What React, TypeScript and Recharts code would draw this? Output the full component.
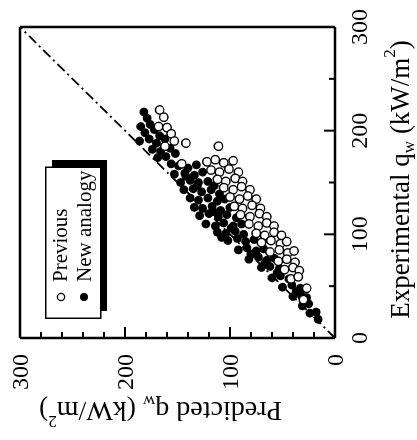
import React from 'react';
import { ScatterChart, Scatter, XAxis, YAxis, ReferenceLine, Legend, Label } from 'recharts';

const FONT = '"Liberation Serif", "Times New Roman", Times, serif';

// Experimental q_w (x in the unrotated chart) ticks and Predicted q_w (y) ticks
const experimentalTicks = [0, 50, 100, 150, 200, 250, 300];
const predictedTicks = [0, 20, 40, 60, 80, 100, 120, 140, 160, 180, 200, 220, 240, 260, 280, 300];
const labelledTicks = [0, 100, 200, 300];
const diagonal = [0, 300];

const seriesNames = ['Previous', 'New analogy'];

// New analogy (filled)
const newAnalogyExp = [
  218, 212, 204, 206, 198, 201, 195, 190, 192, 188, 192, 182, 180, 183, 175, 178, 174,
  168, 166, 164, 167, 158, 159, 157, 160, 150, 152, 150, 151, 147, 143, 144, 141, 143, 139,
  135, 133, 135, 132, 134, 126, 125, 127, 123, 126, 118, 120, 117, 119, 116, 110, 108, 111, 108, 110,
  102, 101, 103, 100, 94, 96, 93, 95, 85, 87, 84, 86, 76, 78, 75, 77, 68, 69, 67, 58, 60, 57,
  49, 51, 48, 40, 41, 39, 31, 33, 24, 25, 18,
  97, 81, 72, 63, 45, 106, 122, 147, 156,
];
const newAnalogyPred = [
  182, 179, 185, 176, 181, 172, 167, 186, 177, 170, 162, 174, 166, 157, 161, 152, 169,
  156, 149, 140, 132, 153, 143, 134, 126, 147, 138, 130, 121, 115, 144, 135, 127, 118, 110,
  138, 130, 121, 112, 105, 134, 126, 117, 109, 100, 129, 120, 111, 103, 94, 123, 114, 106, 97, 89,
  112, 104, 95, 87, 102, 93, 85, 77, 92, 84, 75, 68, 82, 73, 65, 58, 70, 62, 53, 60, 52, 44,
  50, 41, 33, 40, 32, 27, 31, 25, 24, 18, 16,
  108, 80, 67, 55, 37, 99, 116, 131, 142,
];

// Previous (open)
const previousExp = [
  220, 213, 204, 203, 197, 190, 185, 188, 168, 185,
  170, 172, 169, 171, 162, 160, 163, 160, 153, 151, 154, 151, 145, 143, 146, 143,
  136, 134, 137, 134, 127, 125, 128, 125, 119, 117, 120, 117, 110, 108, 111, 108,
  101, 99, 102, 99, 92, 94, 91, 93, 83, 85, 82, 84, 74, 76, 73, 66, 68, 65, 57, 59, 48, 37,
];
const previousPred = [
  167, 163, 168, 160, 156, 153, 162, 142, 146, 111,
  122, 114, 106, 97, 118, 110, 101, 92, 112, 104, 95, 88, 106, 97, 89, 81,
  100, 91, 83, 75, 96, 88, 79, 71, 90, 81, 72, 65, 82, 73, 65, 58,
  75, 67, 58, 51, 70, 61, 52, 46, 62, 53, 45, 39, 54, 46, 38, 48, 40, 34, 42, 35, 27, 30,
];

const zip = (xs: number[], ys: number[]) => xs.map((x, i) => ({ exp: x, pred: ys[i] }));
const newAnalogyData = zip(newAnalogyExp, newAnalogyPred);
const previousData = zip(previousExp, previousPred);

const isMajor = (v: number) => labelledTicks.includes(v);

const BottomTick = (p: any) => {
  const { x, y, payload } = p;
  const v = payload.value;
  return (
    <g>
      <line x1={x} y1={y} x2={x} y2={y - (isMajor(v) ? 11 : 6)} stroke="#000" strokeWidth={2} />
      {isMajor(v) && (
        <text x={x} y={y + 32} textAnchor="middle" fontFamily={FONT} fontSize={24} fill="#000">{v}</text>
      )}
    </g>
  );
};
const TopTick = (p: any) => {
  const { x, y, payload } = p;
  const v = payload.value;
  return <line x1={x} y1={y} x2={x} y2={y + (isMajor(v) ? 11 : 6)} stroke="#000" strokeWidth={2} />;
};
const LeftTick = (p: any) => {
  const { x, y, payload } = p;
  const v = payload.value;
  return (
    <g>
      <line x1={x} y1={y} x2={x + (isMajor(v) ? 11 : 6)} y2={y} stroke="#000" strokeWidth={2} />
      {isMajor(v) && (
        <text x={x - 16} y={y + 8} textAnchor="end" fontFamily={FONT} fontSize={24} fill="#000">{v}</text>
      )}
    </g>
  );
};
const RightTick = (p: any) => {
  const { x, y, payload } = p;
  const v = payload.value;
  return <line x1={x} y1={y} x2={x - (isMajor(v) ? 11 : 6)} y2={y} stroke="#000" strokeWidth={2} />;
};

const XTitle = (p: any) => {
  const vb = p.viewBox || { x: 102, y: 335, width: 311, height: 30 };
  const cx = vb.x + vb.width / 2 + 3;
  const y = vb.y + 74;
  return (
    <text x={cx} y={y} textAnchor="middle" fontFamily={FONT} fontSize={27} fill="#000">
      Experimental q<tspan fontSize={17} dy={5}>w</tspan>
      <tspan dy={-5}> (kW/m</tspan>
      <tspan fontSize={17} dy={-14}>2</tspan>
      <tspan dy={14}>)</tspan>
    </text>
  );
};

const YTitle = (p: any) => {
  const vb = p.viewBox || { x: 42, y: 20, width: 60, height: 315 };
  const x = vb.x - 4;
  const cy = vb.y + vb.height / 2 - 17;
  return (
    <text x={x} y={cy} transform={`rotate(-90, ${x}, ${cy})`} textAnchor="middle" fontFamily={FONT} fontSize={28} fill="#000">
      Predicted q<tspan fontSize={17} dy={6}>w</tspan>
      <tspan dy={-6}> (kW/m</tspan>
      <tspan fontSize={17} dy={-14}>2</tspan>
      <tspan dy={14}>)</tspan>
    </text>
  );
};

const OpenDot = (p: any) => <circle cx={p.cx} cy={p.cy} r={4.2} fill="#fff" stroke="#000" strokeWidth={1.4} />;
const FilledDot = (p: any) => <circle cx={p.cx} cy={p.cy} r={4.4} fill="#000" />;

const LegendBox = (p: any) => {
  const payload: any[] = p.payload || [];
  const items = seriesNames.map((n) => payload.find((e) => e.value === n) || { value: n });
  return (
    <svg width={166} height={70}>
      <rect x={8} y={7} width={151} height={55} fill="#000" />
      <rect x={0.75} y={0.75} width={151} height={55} fill="#fff" stroke="#000" strokeWidth={1.5} />
      {items.map((e, i) => (
        <g key={e.value}>
          {e.value === 'Previous' ? (
            <circle cx={22} cy={16 + i * 23} r={3.6} fill="#fff" stroke="#000" strokeWidth={1.3} />
          ) : (
            <circle cx={22} cy={16 + i * 23} r={4} fill="#000" />
          )}
          <text x={37} y={22 + i * 24} fontFamily={FONT} fontSize={21} fill="#000">{e.value}</text>
        </g>
      ))}
    </svg>
  );
};

export default function App() {
  return (
    <div
      style={{
        position: 'fixed',
        left: 0,
        top: 0,
        width: 440,
        height: 417,
        background: '#fff',
        transformOrigin: '0 0',
        transform: 'translateY(440px) rotate(-90deg)',
      }}
    >
      <ScatterChart width={440} height={417} margin={{ top: 10, right: 17, bottom: 52, left: 42 }}>
        <XAxis
          dataKey="exp"
          type="number"
          domain={[0, 300]}
          ticks={experimentalTicks}
          interval={0}
          height={30}
          tickSize={0}
          tickMargin={0}
          tickLine={false}
          axisLine={{ stroke: '#000', strokeWidth: 2.5 }}
          tick={<BottomTick />}
        >
          <Label content={<XTitle />} />
        </XAxis>
        <XAxis
          xAxisId="top"
          orientation="top"
          type="number"
          domain={[0, 300]}
          ticks={experimentalTicks}
          interval={0}
          height={10}
          tickSize={0}
          tickMargin={0}
          tickLine={false}
          axisLine={{ stroke: '#000', strokeWidth: 2.5 }}
          tick={<TopTick />}
        />
        <YAxis
          dataKey="pred"
          type="number"
          domain={[0, 300]}
          ticks={predictedTicks}
          interval={0}
          width={60}
          tickSize={0}
          tickMargin={0}
          tickLine={false}
          axisLine={{ stroke: '#000', strokeWidth: 2.5 }}
          tick={<LeftTick />}
        >
          <Label content={<YTitle />} />
        </YAxis>
        <YAxis
          yAxisId="right"
          orientation="right"
          type="number"
          domain={[0, 300]}
          ticks={predictedTicks}
          interval={0}
          width={10}
          tickSize={0}
          tickMargin={0}
          tickLine={false}
          axisLine={{ stroke: '#000', strokeWidth: 2.5 }}
          tick={<RightTick />}
        />
        <ReferenceLine
          segment={[{ x: diagonal[0], y: diagonal[0] }, { x: diagonal[1], y: diagonal[1] }]}
          stroke="#000"
          strokeWidth={1.8}
          strokeDasharray="10 4 2 4"
        />
        <Scatter name="New analogy" data={newAnalogyData} shape={<FilledDot />} isAnimationActive={false} />
        <Scatter name="Previous" data={previousData} shape={<OpenDot />} isAnimationActive={false} />
        <Legend
          layout="horizontal"
          verticalAlign="middle"
          align="center"
          content={<LegendBox />}
          wrapperStyle={{ left: 121, top: 45, width: 166, height: 70 }}
        />
      </ScatterChart>
    </div>
  );
}
